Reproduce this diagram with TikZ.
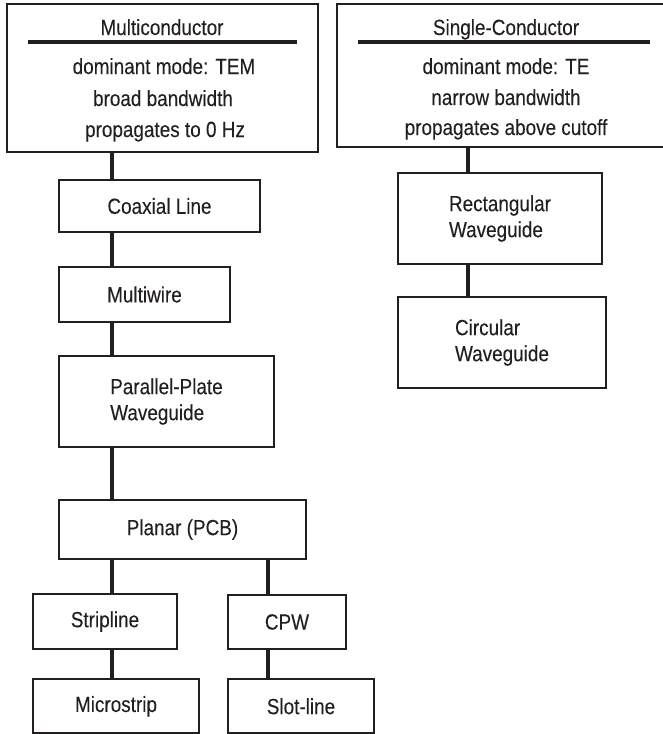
\documentclass[tikz,border=0pt]{standalone}
\usepackage{fontspec}
\setmainfont{Liberation Sans}[FakeStretch=0.86,FakeBold=0.15]
\definecolor{ink}{HTML}{231F20}

\begin{document}
\begin{tikzpicture}[x=1pt,y=-1pt]
\tikzstyle{box}=[draw=ink,line width=2.2pt,inner sep=0pt,align=center,text=ink,font=\fontsize{22}{26}\selectfont]
\tikzstyle{lbox}=[box,align=left]
\tikzstyle{txt}=[anchor=base,inner sep=0pt,text=ink,font=\fontsize{22}{26}\selectfont]
\tikzstyle{link}=[draw=ink,line width=3.6pt]
\tikzstyle{rule}=[draw=ink,line width=3.2pt]

\useasboundingbox (0,0) rectangle (662,734);

% the two families
\node[box,minimum width=311pt,minimum height=148pt] (multi) at (162.5,78) {};
\node[txt] (multiT) at (162,35) {Multiconductor};
\draw[rule] (28,42) -- (297,42);
\node[txt] at (164,74) {dominant mode: TEM};
\node[txt] at (163,106) {broad bandwidth};
\node[txt] at (165,137) {propagates to 0 Hz};

\node[box,minimum width=335pt,minimum height=143pt] (single) at (504.5,75.5) {};
\node[txt] (singleT) at (506,35) {Single-Conductor};
\draw[rule] (358,42) -- (650,42);
\node[txt] at (506,74) {dominant mode: TE};
\node[txt] at (506,105) {narrow bandwidth};
\node[txt] at (506,135) {propagates above cutoff};

% multiconductor lines
\node[box,minimum width=201pt,minimum height=52pt] (coax) at (159.5,206) {Coaxial Line};
\node[box,minimum width=171pt,minimum height=55pt] (mwire) at (144.5,294.5) {Multiwire};
\node[lbox,minimum width=215pt,minimum height=91pt] (pplate) at (166.5,401.5) {Parallel-Plate\\Waveguide};
\node[box,minimum width=247pt,minimum height=59pt] (planar) at (182.5,529.5) {Planar (PCB)};
\node[box,minimum width=144pt,minimum height=55pt] (strip) at (105,621.5) {Stripline};
\node[box,minimum width=166pt,minimum height=54.5pt] (micro) at (116,706.25) {Microstrip};
\node[box,minimum width=118pt,minimum height=54pt] (cpw) at (287,622) {CPW};
\node[box,minimum width=146pt,minimum height=54.5pt] (slot) at (301,706.25) {Slot-line};

% single-conductor lines
\node[lbox,minimum width=204pt,minimum height=91pt] (rect) at (500,218.5) {Rectangular\\Waveguide};
\node[lbox,minimum width=208pt,minimum height=91pt] (circ) at (502,342.5) {Circular\\Waveguide};

% stems
\coordinate (stemA) at (112,0);
\coordinate (stemB) at (268,0);
\coordinate (stemC) at (468,0);

\draw[link] (multi.south -| stemA) -- (coax.north -| stemA);
\draw[link] (coax.south -| stemA) -- (mwire.north -| stemA);
\draw[link] (mwire.south -| stemA) -- (pplate.north -| stemA);
\draw[link] (pplate.south -| stemA) -- (planar.north -| stemA);
\draw[link] (planar.south -| stemA) -- (strip.north -| stemA);
\draw[link] (strip.south -| stemA) -- (micro.north -| stemA);
\draw[link] (planar.south -| stemB) -- (cpw.north -| stemB);
\draw[link] (cpw.south -| stemB) -- (slot.north -| stemB);
\draw[link] (single.south -| stemC) -- (rect.north -| stemC);
\draw[link] (rect.south -| stemC) -- (circ.north -| stemC);
\end{tikzpicture}
\end{document}
